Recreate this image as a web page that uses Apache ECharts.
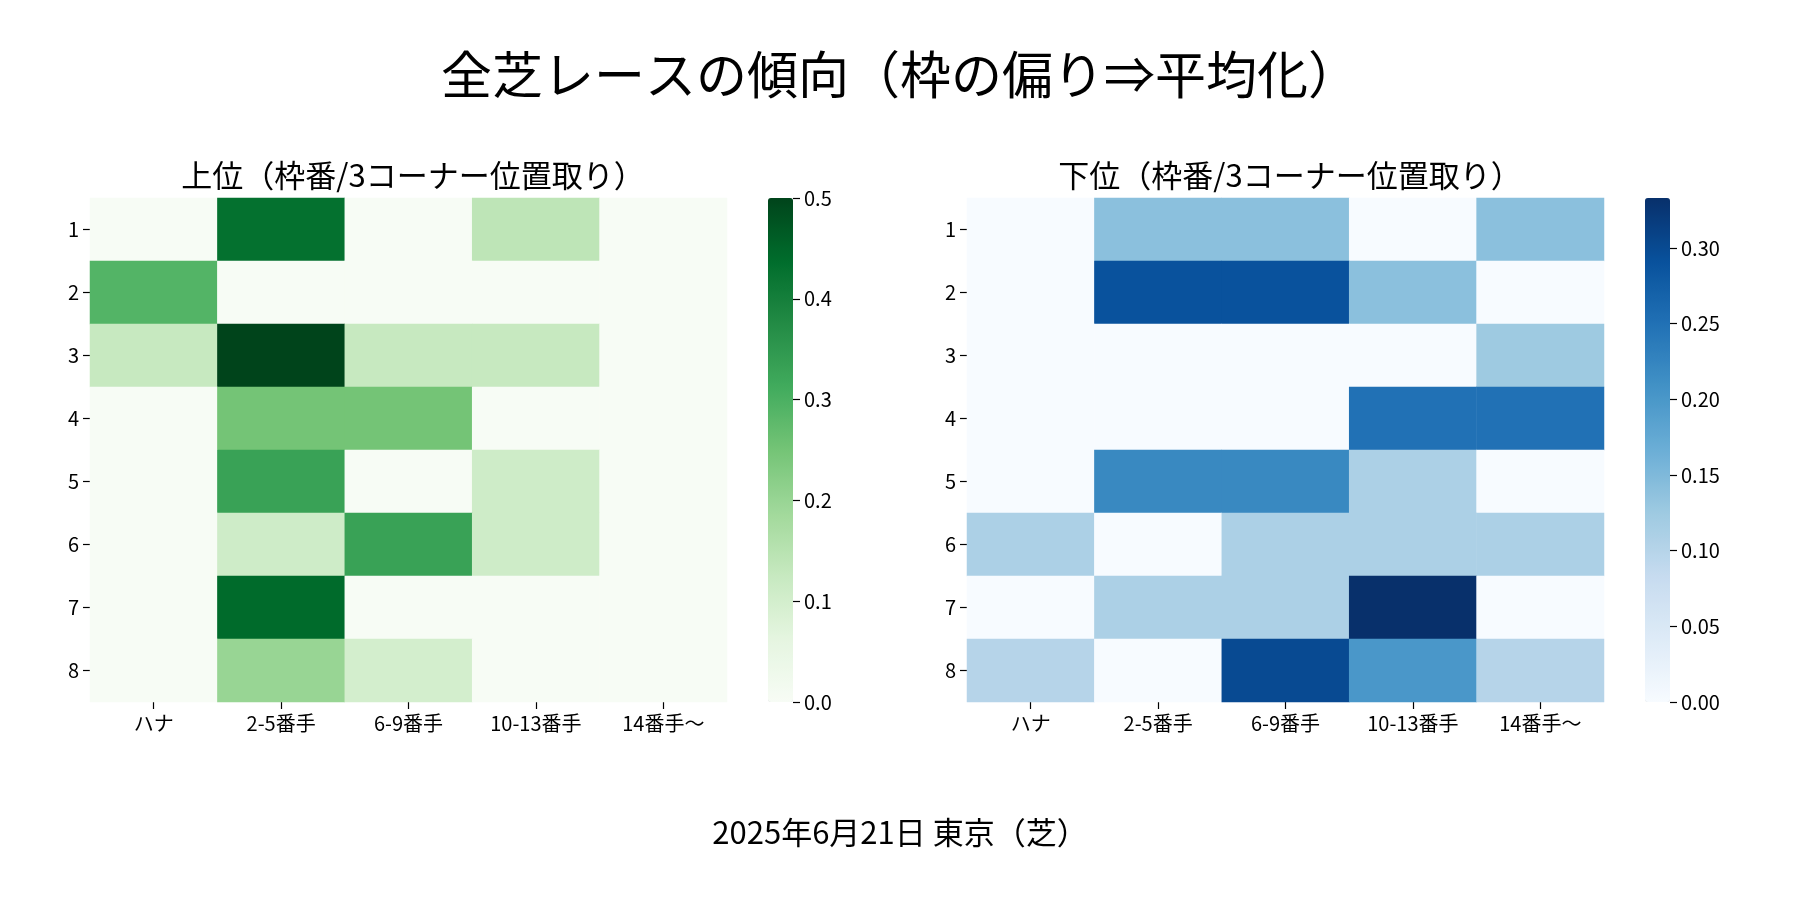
<!DOCTYPE html>
<html>
<head>
<meta charset="utf-8">
<script src="https://cdn.jsdelivr.net/npm/echarts@6/dist/echarts.min.js"></script>
<style>
  html, body { margin: 0; padding: 0; background: #fff; }
  #chart { width: 1800px; height: 900px; }
</style>
</head>
<body>
<div id="chart"></div>
<script>
// 位置取り（3コーナー）
const positions = ['ハナ', '2-5番手', '6-9番手', '10-13番手', '14番手〜'];
// 枠番
const gates = ['1', '2', '3', '4', '5', '6', '7', '8'];

// 上位（枠番ごとの割合）
const upperRates = [
  [0, 0.43, 0, 0.14, 0],
  [0.29, 0, 0, 0, 0],
  [0.125, 0.5, 0.125, 0.125, 0],
  [0, 0.25, 0.25, 0, 0],
  [0, 0.33, 0, 0.11, 0],
  [0, 0.11, 0.33, 0.11, 0],
  [0, 0.44, 0, 0, 0],
  [0, 0.2, 0.1, 0, 0]
];

// 下位（枠番ごとの割合）
const lowerRates = [
  [0, 0.14, 0.14, 0, 0.14],
  [0, 0.29, 0.29, 0.14, 0],
  [0, 0, 0, 0, 0.125],
  [0, 0, 0, 0.25, 0.25],
  [0, 0.22, 0.22, 0.11, 0],
  [0.11, 0, 0.11, 0.11, 0.11],
  [0, 0.11, 0.11, 0.333, 0],
  [0.1, 0, 0.3, 0.2, 0.1]
];

// colorbar ticks
const upperTicks = [0, 0.1, 0.2, 0.3, 0.4, 0.5];
const lowerTicks = [0, 0.05, 0.1, 0.15, 0.2, 0.25, 0.3];

const greens = ['#f7fcf5', '#e5f5e0', '#c7e9c0', '#a1d99b', '#74c476', '#41ab5d', '#238b45', '#006d2c', '#00441b'];
const blues = ['#f7fbff', '#deebf7', '#c6dbef', '#9ecae1', '#6baed6', '#4292c6', '#2171b5', '#08519c', '#08306b'];

const FONT = '"Noto Sans CJK JP", "Noto Sans", sans-serif';

function toCells(rows) {
  const out = [];
  rows.forEach((row, y) => row.forEach((v, x) => out.push([x, y, v])));
  return out;
}
function maxOf(rows) {
  return Math.max(...rows.map(r => Math.max(...r)));
}

const upperMax = maxOf(upperRates);
const lowerMax = maxOf(lowerRates);

const TOP = 198, H = 504;
const heatGrids = [{ left: 90, width: 637 }, { left: 967, width: 637 }];
const barGrids = [{ left: 768, width: 25 }, { left: 1645, width: 25 }];

const tickStyle = { show: true, inside: false, length: 7, lineStyle: { color: '#000', width: 1.2 } };

const catX = i => ({
  type: 'category', gridIndex: i, data: positions,
  axisLine: { show: false },
  axisTick: Object.assign({ alignWithLabel: true }, tickStyle),
  axisLabel: { color: '#000', fontSize: 20, fontFamily: FONT, margin: 11 },
  splitArea: { show: false }
});
const catY = i => ({
  type: 'category', gridIndex: i, data: gates, inverse: true,
  axisLine: { show: false },
  axisTick: Object.assign({ alignWithLabel: true }, tickStyle),
  axisLabel: { color: '#000', fontSize: 20, fontFamily: FONT, margin: 11 },
  splitArea: { show: false }
});
const barX = i => ({ type: 'value', gridIndex: i, show: false, min: 0, max: 1 });
const barY = (i, max, ticks, digits) => ({
  type: 'value', gridIndex: i, min: 0, max: max, interval: ticks[1] - ticks[0],
  position: 'right',
  axisLine: { show: false, onZero: false },
  splitLine: { show: false },
  axisTick: Object.assign({ customValues: ticks }, tickStyle),
  axisLabel: {
    color: '#000', fontSize: 20, fontFamily: FONT, margin: 11,
    customValues: ticks, formatter: v => v.toFixed(digits)
  }
});

const option = {
  backgroundColor: '#fff',
  animation: false,
  title: [
    { text: '全芝レースの傾向（枠の偏り⇒平均化）', left: 'center', top: 44,
      textStyle: { fontSize: 51, fontWeight: 'normal', color: '#000', fontFamily: FONT } },
    { text: '上位（枠番/3コーナー位置取り）', left: 408, top: 155, textAlign: 'center',
      textStyle: { fontSize: 31, fontWeight: 'normal', color: '#000', fontFamily: FONT } },
    { text: '下位（枠番/3コーナー位置取り）', left: 1285, top: 155, textAlign: 'center',
      textStyle: { fontSize: 31, fontWeight: 'normal', color: '#000', fontFamily: FONT } },
    { text: '2025年6月21日 東京（芝）', left: 'center', top: 812,
      textStyle: { fontSize: 31, fontWeight: 'normal', color: '#000', fontFamily: FONT } }
  ],
  grid: [
    { left: heatGrids[0].left, width: heatGrids[0].width, top: TOP, height: H },
    { left: heatGrids[1].left, width: heatGrids[1].width, top: TOP, height: H },
    { left: barGrids[0].left, width: barGrids[0].width, top: TOP, height: H },
    { left: barGrids[1].left, width: barGrids[1].width, top: TOP, height: H }
  ],
  xAxis: [catX(0), catX(1), barX(2), barX(3)],
  yAxis: [catY(0), catY(1), barY(2, upperMax, upperTicks, 1), barY(3, lowerMax, lowerTicks, 2)],
  visualMap: [
    { type: 'continuous', seriesIndex: 0, min: 0, max: upperMax, calculable: false,
      left: barGrids[0].left, top: TOP, itemWidth: barGrids[0].width, itemHeight: H,
      padding: 0, text: null, showLabel: false, hoverLink: false,
      inRange: { color: greens } },
    { type: 'continuous', seriesIndex: 1, min: 0, max: lowerMax, calculable: false,
      left: barGrids[1].left, top: TOP, itemWidth: barGrids[1].width, itemHeight: H,
      padding: 0, text: null, showLabel: false, hoverLink: false,
      inRange: { color: blues } }
  ],
  series: [
    { type: 'heatmap', xAxisIndex: 0, yAxisIndex: 0, data: toCells(upperRates),
      emphasis: { disabled: true } },
    { type: 'heatmap', xAxisIndex: 1, yAxisIndex: 1, data: toCells(lowerRates),
      emphasis: { disabled: true } }
  ]
};

const chart = echarts.init(document.getElementById('chart'));
chart.setOption(option);
</script>
</body>
</html>
